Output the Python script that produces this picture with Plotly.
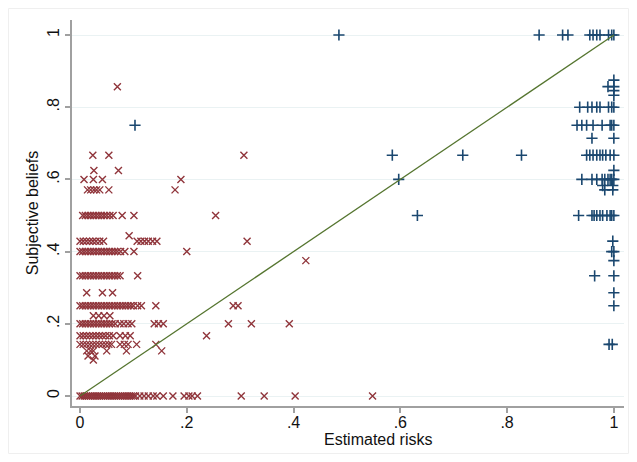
import plotly.graph_objects as go

# ---- data ----
# Red "x" markers: (estimated risk, subjective belief)
red_x = [
    # y = 0
    0.000, 0.004, 0.008, 0.012, 0.016, 0.020, 0.024, 0.028, 0.032, 0.036, 0.040, 0.044,
    0.048, 0.052, 0.056, 0.060, 0.064, 0.068, 0.072, 0.076, 0.080, 0.084, 0.088, 0.092,
    0.096, 0.100, 0.104, 0.112, 0.120, 0.128, 0.137, 0.144, 0.156, 0.174, 0.195, 0.204,
    0.210, 0.220, 0.302, 0.345, 0.403, 0.548,
    # y = 0.1 / 0.111 / 0.125
    0.025, 0.015, 0.028, 0.0125, 0.020, 0.025, 0.050, 0.087, 0.153,
    # y = 0.143
    0.000, 0.006, 0.012, 0.018, 0.024, 0.030, 0.036, 0.042, 0.048, 0.054, 0.059,
    0.075, 0.083, 0.090, 0.106, 0.142,
    # y = 0.167
    0.000, 0.006, 0.012, 0.018, 0.024, 0.030, 0.036, 0.042, 0.048, 0.055, 0.062,
    0.075, 0.085, 0.094, 0.237,
    # y = 0.2
    0.000, 0.005, 0.010, 0.015, 0.020, 0.025, 0.030, 0.035, 0.040, 0.045, 0.050, 0.055,
    0.060, 0.066, 0.075, 0.082, 0.090, 0.097, 0.139, 0.147, 0.156, 0.278, 0.321, 0.392,
    # y = 0.222
    0.025, 0.035, 0.045, 0.056,
    # y = 0.25
    0.000, 0.005, 0.010, 0.015, 0.020, 0.025, 0.030, 0.035, 0.040, 0.045, 0.050, 0.055,
    0.060, 0.065, 0.070, 0.075, 0.080, 0.085, 0.090, 0.095, 0.100, 0.108, 0.115, 0.142,
    0.287, 0.296,
    # y = 0.286
    0.0125, 0.042, 0.061,
    # y = 0.333
    0.000, 0.005, 0.010, 0.015, 0.020, 0.025, 0.030, 0.035, 0.040, 0.045, 0.050, 0.055,
    0.060, 0.065, 0.070, 0.075, 0.108,
    # y = 0.375
    0.423,
    # y = 0.4
    0.000, 0.005, 0.010, 0.015, 0.020, 0.025, 0.030, 0.035, 0.040, 0.045, 0.050, 0.055,
    0.060, 0.065, 0.070, 0.076, 0.084, 0.101, 0.200,
    # y = 0.429
    0.000, 0.006, 0.012, 0.018, 0.024, 0.030, 0.037, 0.044, 0.107, 0.114, 0.121, 0.128,
    0.136, 0.144, 0.313,
    # y = 0.444
    0.092,
    # y = 0.5
    0.005, 0.010, 0.015, 0.020, 0.025, 0.030, 0.035, 0.040, 0.045, 0.050, 0.056, 0.062,
    0.079, 0.101, 0.254,
    # y = 0.571
    0.014, 0.020, 0.026, 0.031, 0.037, 0.054, 0.178,
    # y = 0.6
    0.0075, 0.025, 0.042, 0.189,
    # y = 0.625 / 0.667 / 0.857
    0.026, 0.072, 0.024, 0.054, 0.307, 0.070,
]
red_y = (
    [0.0] * 42
    + [0.1, 0.111, 0.111, 0.125, 0.125, 0.125, 0.125, 0.125, 0.125]
    + [0.143] * 16
    + [0.167] * 15
    + [0.2] * 24
    + [0.222] * 4
    + [0.25] * 26
    + [0.286] * 3
    + [0.333] * 17
    + [0.375]
    + [0.4] * 19
    + [0.429] * 15
    + [0.444]
    + [0.5] * 15
    + [0.571] * 7
    + [0.6] * 4
    + [0.625, 0.625, 0.667, 0.667, 0.667, 0.857]
)

# Blue "+" markers
blue_x = [
    # y = 1
    0.485, 0.860, 0.904, 0.914, 0.955, 0.961, 0.968, 0.974, 0.990, 0.996, 1.000,
    # y = 0.875 / 0.857 / 0.846 / 0.833
    1.000, 0.989, 1.000, 1.000, 1.000,
    # y = 0.8
    0.936, 0.951, 0.959, 0.968, 0.974, 0.990, 0.996, 1.000,
    # y = 0.75
    0.103, 0.931, 0.940, 0.949, 0.961, 0.978, 0.993, 0.996, 1.000,
    # y = 0.714
    0.959, 1.000,
    # y = 0.667
    0.585, 0.717, 0.827, 0.949, 0.955, 0.961, 0.968, 0.974, 0.979, 0.985, 0.993, 1.000,
    # y = 0.625
    1.000,
    # y = 0.6
    0.597, 0.940, 0.959, 0.968, 0.978, 0.983, 0.989, 0.993, 0.996, 1.000,
    # y = 0.583 / 0.571
    0.979, 0.998, 0.983, 0.998,
    # y = 0.5
    0.632, 0.934, 0.959, 0.963, 0.968, 0.974, 0.979, 0.987, 0.993, 0.996, 1.000,
    # y = 0.429 / 0.4 / 0.375 / 0.333 / 0.286 / 0.25 / 0.143
    0.998, 0.996, 1.000, 1.000, 0.964, 1.000, 1.000, 1.000, 0.991, 0.997,
]
blue_y = (
    [1.0] * 11
    + [0.875, 0.857, 0.857, 0.846, 0.833]
    + [0.8] * 8
    + [0.75] * 9
    + [0.714] * 2
    + [0.667] * 12
    + [0.625]
    + [0.6] * 10
    + [0.583, 0.583, 0.571, 0.571]
    + [0.5] * 11
    + [0.429, 0.4, 0.4, 0.375, 0.333, 0.333, 0.286, 0.25, 0.143, 0.143]
)

diag_x = [0, 1]
diag_y = [0, 1]

tick_vals = [0, 0.2, 0.4, 0.6, 0.8, 1]
tick_text = ["0", ".2", ".4", ".6", ".8", "1"]

RED = "#90353b"
BLUE = "#1a476f"
GREEN = "#55752f"
FONT = "Liberation Sans, Arial, sans-serif"

fig = go.Figure()
fig.add_trace(go.Scatter(
    x=red_x, y=red_y, mode="markers",
    marker=dict(symbol="x-thin", size=7, line=dict(color=RED, width=1.4), color=RED),
    showlegend=False, hoverinfo="skip",
))
fig.add_trace(go.Scatter(
    x=blue_x, y=blue_y, mode="markers",
    marker=dict(symbol="cross-thin", size=8, line=dict(color=BLUE, width=1.6), color=BLUE),
    showlegend=False, hoverinfo="skip",
))
fig.add_trace(go.Scatter(
    x=diag_x, y=diag_y, mode="lines",
    line=dict(color=GREEN, width=1.3),
    showlegend=False, hoverinfo="skip",
))

axis_common = dict(
    showline=True, linecolor="#a0a0a0", linewidth=2,
    ticks="outside", ticklen=5, tickwidth=1.5, tickcolor="#a0a0a0",
    zeroline=False, automargin=False,
    tickvals=tick_vals, ticktext=tick_text,
    tickfont=dict(family=FONT, size=16, color="#111111"),
)

fig.update_layout(
    width=621, height=446,
    margin=dict(l=64, r=5, t=12, b=48),
    paper_bgcolor="white", plot_bgcolor="white",
    font=dict(family=FONT, color="#111111"),
    xaxis=dict(
        range=[-0.015, 1.019], showgrid=False,
        ticklabelstandoff=-4,
        **axis_common,
    ),
    yaxis=dict(
        range=[-0.0277, 1.0416], showgrid=True, gridcolor="#eaf2f3", gridwidth=1,
        tickangle=-90,
        title=dict(text="Subjective beliefs", font=dict(family=FONT, size=16), standoff=2),
        **axis_common,
    ),
    annotations=[dict(
        text="Estimated risks", xref="paper", yref="paper",
        x=0.554, y=-0.088, xanchor="center", yanchor="middle",
        showarrow=False, font=dict(family=FONT, size=16, color="#111111"),
    )],
    shapes=[dict(
        type="rect", xref="paper", yref="paper",
        x0=-0.1150, x1=1.0082, y0=-0.1230, y1=1.0298,
        line=dict(color="#efefef", width=1), layer="below",
    )],
)

fig.write_html("out.html")
